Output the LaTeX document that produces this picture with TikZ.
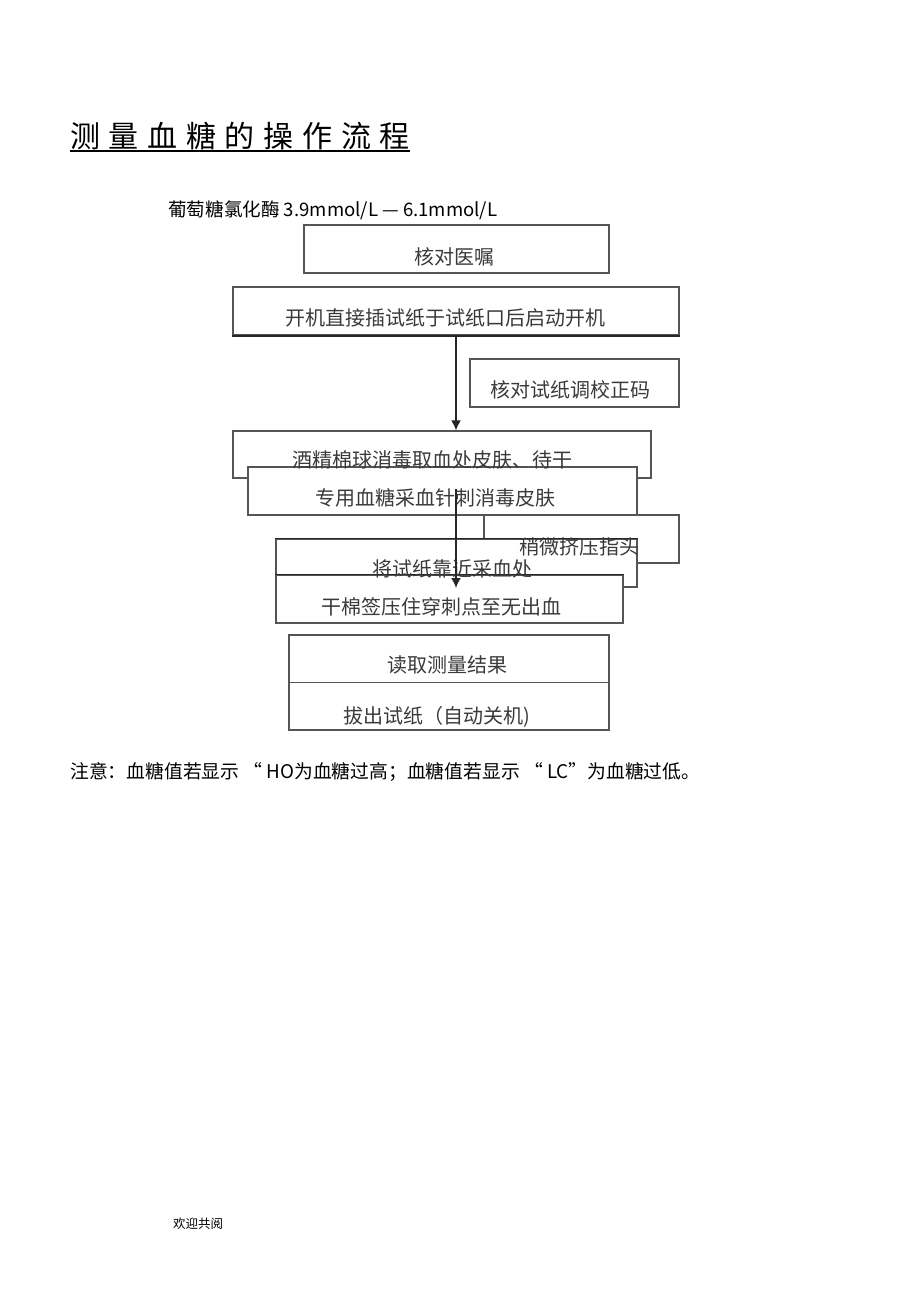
\documentclass[tikz,border=0pt]{standalone}
\usepackage{fontspec}
\setmainfont{Noto Sans CJK SC}
\usetikzlibrary{arrows.meta}
\definecolor{boxline}{HTML}{555555}
\definecolor{boxtext}{HTML}{3A3A3A}
\begin{document}
\begin{tikzpicture}[x=1pt,y=-1pt,
  box/.style={draw=boxline, line width=1.2pt, fill=white, inner sep=0pt, rectangle},
  heavy/.style={draw=black!85, line width=1.8pt},
  btext/.style={text=boxtext, font=\fontsize{20}{21}\selectfont, inner sep=0pt},
  arr/.style={draw=black!85, line width=1.7pt, -{Latex[length=10pt,width=10pt]}},
  plain/.style={inner sep=0pt, text=black}]
\useasboundingbox[fill=white] (0,0) rectangle (920,1303);

% title
\node[plain, anchor=west, font=\fontsize{30}{32}\selectfont] (title) at (70,136)
  {测\hspace{8.7pt}量\hspace{8.7pt}血\hspace{8.7pt}糖\hspace{8.7pt}的\hspace{8.7pt}操\hspace{8.7pt}作\hspace{8.7pt}流\hspace{8.7pt}程};
\draw[line width=1.3pt] (title.south west |- 0,151) -- (title.south east |- 0,151);

\node[plain, anchor=west, font=\fontsize{18.6}{20}\selectfont] (sub) at (168,210)
  {葡萄糖氯化酶 3.9mmol/L — 6.1mmol/L};

% boxes
\node[box, minimum width=305pt, minimum height=48pt] (b1) at (456.5,249) {};
\node[box, minimum width=446pt, minimum height=48pt] (b2) at (456,311) {};
\draw[heavy] (b2.south west) -- (b2.south east);
\node[box, minimum width=209pt, minimum height=48pt] (b3) at (574.5,383) {};

\node[box, minimum width=418pt, minimum height=47pt] (b4) at (442,454.5) {};
\node[box, minimum width=195pt, minimum height=48pt] (b6) at (581.5,539) {};
\node[box, minimum width=389pt, minimum height=48pt] (b5) at (442.5,491) {};
\node[box, minimum width=361pt, minimum height=48pt] (b7) at (456.5,563) {};
\draw[heavy] (b7.north west) -- (b7.north east);
\node[box, minimum width=347pt, minimum height=48pt] (b8) at (449.5,599) {};
\draw[heavy] (b8.north west) -- (b8.north east);

\node[box, minimum width=320pt, minimum height=95pt] (b9) at (449,682.5) {};
\draw[draw=boxline, line width=1.2pt] (b9.west) -- (b9.east);

% texts
\node[btext] (t1) at (454,257) {核对医嘱};
\node[btext] (t2) at (445,318) {开机直接插试纸于试纸口后启动开机};
\node[btext] (t3) at (570,390) {核对试纸调校正码};
\node[btext] (t4) at (432,460) {酒精棉球消毒取血处皮肤、待干};
\node[btext] (t5) at (435,498) {专用血糖采血针刺消毒皮肤};
\node[btext] (t6) at (579,547) {稍微挤压指头};
\node[btext] (t7) at (452,569) {将试纸靠近采血处};
\node[btext] (t8) at (441,607) {干棉签压住穿刺点至无出血};
\node[btext] (t9a) at (447,665) {读取测量结果};
\node[btext] (t9b) at (437,717) {拔出试纸（自动关机)};

% connectors
\draw[arr] (b2.south) -- (b2.south |- b4.north);
\coordinate (a2s) at (456,489);
\coordinate (a2e) at (456,588);
\draw[arr] (a2s) -- (a2e);

% note
\node[plain, anchor=west, font=\fontsize{18.8}{20}\selectfont] (note) at (70,772)
  {注意：血糖值若显示 “ HO为血糖过高；血糖值若显示 “ LC”为血糖过低。};

\node[plain, anchor=west, font=\fontsize{12.5}{14}\selectfont] (foot) at (173,1224) {欢迎共阅};
\end{tikzpicture}
\end{document}
